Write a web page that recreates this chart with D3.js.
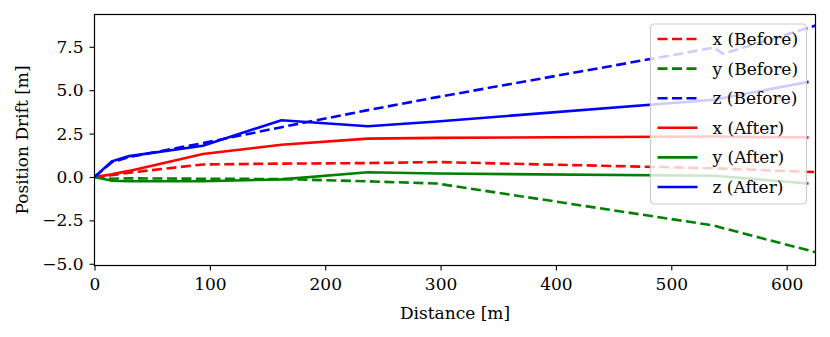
<!DOCTYPE html>
<html>
<head>
<meta charset="utf-8">
<script src="https://cdn.jsdelivr.net/npm/d3@7"></script>
<style>
  body { margin: 0; background: #fff; }
  svg text { font-family: "DejaVu Serif", serif; fill: #000; }
</style>
</head>
<body>
<svg width="830" height="337"></svg>
<script>
// distances [m] and drift values
var distBefore = [0, 15, 30, 94, 162, 237, 297, 537, 545, 625];
var xBefore = [0, 0.1, 0.25, 0.72, 0.77, 0.8, 0.86, 0.5, 0.48, 0.28];
var yBefore = [0, -0.1, -0.08, -0.1, -0.12, -0.25, -0.38, -2.8, -2.95, -4.33];
var zBefore = [0, 0.85, 1.15, 1.95, 2.87, 3.85, 4.6, 7.45, 7.1, 8.72];

var distAfter = [0, 15, 30, 94, 162, 237, 297, 537, 619];
var xAfter = [0, 0.15, 0.35, 1.32, 1.86, 2.21, 2.25, 2.33, 2.27];
var yAfter = [0, -0.22, -0.25, -0.25, -0.14, 0.27, 0.2, 0.07, -0.38];
var zAfter = [0, 0.9, 1.2, 1.8, 3.27, 2.92, 3.2, 4.45, 5.48];

var xTicks = [0, 100, 200, 300, 400, 500, 600];
var yTicks = [-5, -2.5, 0, 2.5, 5, 7.5];
var xLimits = [0, 625];
var yLimits = [-5.1, 9.36];

var series = [
  {name: "x (Before)", dist: distBefore, vals: xBefore, color: "#ff0000", dashed: true},
  {name: "y (Before)", dist: distBefore, vals: yBefore, color: "#008000", dashed: true},
  {name: "z (Before)", dist: distBefore, vals: zBefore, color: "#0000ff", dashed: true},
  {name: "x (After)", dist: distAfter, vals: xAfter, color: "#ff0000", dashed: false},
  {name: "y (After)", dist: distAfter, vals: yAfter, color: "#008000", dashed: false},
  {name: "z (After)", dist: distAfter, vals: zAfter, color: "#0000ff", dashed: false}
];

var svg = d3.select("svg"),
    margin = {top: 14.5, right: 14.5, bottom: 71.5, left: 94.5},
    width = +svg.attr("width") - margin.left - margin.right,
    height = +svg.attr("height") - margin.top - margin.bottom,
    g = svg.append("g").attr("transform", "translate(" + margin.left + "," + margin.top + ")");

var x = d3.scaleLinear().domain(xLimits).range([0, width]);
var y = d3.scaleLinear().domain(yLimits).range([height, 0]);

var line = d3.line()
    .x(d => x(d[0]))
    .y(d => y(d[1]));

svg.append("defs").append("clipPath").attr("id", "plot-clip")
  .append("rect").attr("width", width).attr("height", height);

const drawAxes = () => {
  var ax = g.append("g")
    .attr("transform", "translate(0," + height + ")")
    .call(d3.axisBottom(x).tickValues(xTicks).tickSize(5).tickSizeOuter(0).tickPadding(7).tickFormat(d3.format("d")));
  ax.select(".domain").remove();
  ax.selectAll("line").attr("stroke", "#000").attr("stroke-width", 1.1);
  ax.selectAll("text").attr("font-size", 17);

  var ay = g.append("g")
    .call(d3.axisLeft(y).tickValues(yTicks).tickSize(5).tickSizeOuter(0).tickPadding(6).tickFormat(d3.format(".1f")));
  ay.select(".domain").remove();
  ay.selectAll("line").attr("stroke", "#000").attr("stroke-width", 1.1);
  ay.selectAll("text").attr("font-size", 17);

  g.append("text")
    .attr("x", width / 2)
    .attr("y", height + 53)
    .attr("text-anchor", "middle")
    .attr("font-size", 17)
    .text("Distance [m]");

  svg.append("text")
    .attr("transform", "translate(28," + (margin.top + height / 2) + ") rotate(-90)")
    .attr("text-anchor", "middle")
    .attr("font-size", 17)
    .text("Position Drift [m]");
}

const drawLines = () => {
  var plot = g.append("g").attr("clip-path", "url(#plot-clip)");
  for (const s of series) {
    plot.append("path")
      .datum(s.dist.map((d, i) => [d, s.vals[i]]))
      .attr("fill", "none")
      .attr("stroke", s.color)
      .attr("stroke-width", 2.6)
      .attr("stroke-dasharray", s.dashed ? "10,4.5" : null)
      .attr("d", line);
  }
}

const drawLegend = () => {
  var lg = g.append("g").attr("transform", "translate(" + (width - 165) + ",9.5)");
  lg.append("rect")
    .attr("width", 156).attr("height", 180)
    .attr("rx", 4)
    .attr("fill", "#fff").attr("fill-opacity", 0.8)
    .attr("stroke", "#cccccc").attr("stroke-width", 1.2);
  series.forEach((s, i) => {
    var cy = 15 + i * 29.6;
    lg.append("line")
      .attr("x1", 7).attr("x2", 47)
      .attr("y1", cy).attr("y2", cy)
      .attr("stroke", s.color)
      .attr("stroke-width", 2.6)
      .attr("stroke-dasharray", s.dashed ? "10,4.5" : null);
    lg.append("text")
      .attr("x", 62).attr("y", cy)
      .attr("dy", "0.35em")
      .attr("font-size", 17)
      .text(s.name);
  });
}

drawLines();
drawLegend();
drawAxes();

// frame
g.append("rect")
  .attr("width", width).attr("height", height)
  .attr("fill", "none")
  .attr("stroke", "#000")
  .attr("stroke-width", 1.2);
</script>
</body>
</html>
